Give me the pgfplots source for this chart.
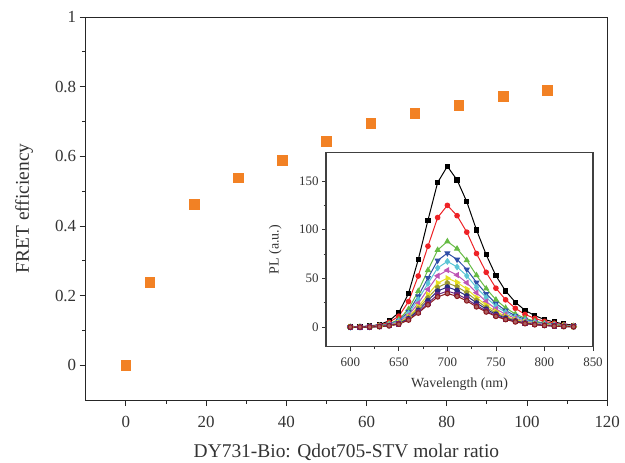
\documentclass[border=0pt]{standalone}
\usepackage{fontspec}
\setmainfont{Liberation Serif}
\usepackage{pgfplots}
\usepackage{pgfplotstable}
\pgfplotsset{compat=1.18}
\usetikzlibrary{plotmarks}
\definecolor{forange}{HTML}{F28124}
\definecolor{txt}{HTML}{333333}
\definecolor{cK}{HTML}{000000}
\definecolor{cR}{HTML}{EE2226}
\definecolor{cG}{HTML}{66BB44}
\definecolor{cB}{HTML}{2F4FA8}
\definecolor{cC}{HTML}{5CC6D6}
\definecolor{cM}{HTML}{BE55B6}
\definecolor{cY}{HTML}{E6E020}
\definecolor{cDY}{HTML}{9A9830}
\definecolor{cN}{HTML}{2A2A80}
\definecolor{cP}{HTML}{6A2A80}
\definecolor{cW}{HTML}{8B1A1E}

\pgfplotstableread{
x y
0 0
6 0.239
17 0.463
28 0.539
39 0.588
50 0.643
61 0.695
72 0.723
83 0.747
94 0.772
105 0.789
}\fret

\pgfplotstableread{
wl k r g b c m y dy n p w
600 0.5 0.4 0.3 0.2 0.2 0.2 0.2 0.1 0.1 0.1 0.1
610 0.7 0.5 0.4 0.3 0.3 0.2 0.2 0.2 0.2 0.1 0.1
620 1.2 0.9 0.6 0.5 0.5 0.4 0.4 0.3 0.3 0.3 0.2
630 2.6 2.0 1.4 1.2 1.1 0.9 0.8 0.7 0.7 0.6 0.6
640 6.6 5.0 3.5 3.0 2.7 2.3 2.0 1.8 1.6 1.5 1.4
650 14.9 11.3 7.9 6.8 6.1 5.3 4.5 4.1 3.7 3.3 3.1
660 34.7 26.3 18.5 16.0 14.2 12.3 10.6 9.5 8.7 7.8 7.3
670 69.3 52.5 37.0 31.9 28.4 24.6 21.1 19.1 17.3 15.6 14.5
680 109.7 83.1 58.5 50.5 44.9 38.9 33.4 30.2 27.4 24.7 23.0
690 148.5 112.5 79.2 68.4 60.8 52.7 45.3 40.9 37.1 33.4 31.1
700 165 125 88 76 67.5 58.5 50.3 45.4 41.2 37.1 34.6
710 151 114.4 80.5 69.5 61.8 53.5 46.0 41.5 37.7 33.9 31.7
720 128.7 97.5 68.6 59.3 52.7 45.6 39.2 35.4 32.1 28.9 27.0
730 99.8 75.6 53.2 46.0 40.8 35.4 30.4 27.5 24.9 22.4 20.9
740 74.3 56.3 39.6 34.2 30.4 26.3 22.6 20.4 18.5 16.7 15.6
750 52.8 40.0 28.2 24.3 21.6 18.7 16.1 14.5 13.2 11.9 11.1
760 37.1 28.1 19.8 17.1 15.2 13.2 11.3 10.2 9.3 8.3 7.8
770 25.6 19.4 13.6 11.8 10.5 9.1 7.8 7.0 6.4 5.8 5.4
780 17.3 13.1 9.2 8.0 7.1 6.1 5.3 4.8 4.3 3.9 3.6
790 11.9 9.0 6.3 5.5 4.9 4.2 3.6 3.3 3.0 2.7 2.5
800 7.9 6.0 4.2 3.6 3.2 2.8 2.4 2.2 2.0 1.8 1.7
810 5.3 4.0 2.8 2.4 2.2 1.9 1.6 1.5 1.3 1.2 1.1
820 3.3 2.5 1.8 1.5 1.4 1.2 1.0 0.9 0.8 0.7 0.7
830 2.0 1.5 1.1 0.9 0.8 0.7 0.6 0.5 0.5 0.4 0.4
}\spectra

\begin{document}
\begin{tikzpicture}
\path[use as bounding box] (0bp,0bp) rectangle (625bp,463bp);
% main axis
\begin{axis}[
  at={(85.7bp,63bp)}, anchor=south west,
  scale only axis, width=521.5bp, height=383bp,
  xmin=-10, xmax=120, ymin=-0.1, ymax=1,
  xtick={0,20,...,120}, ytick={0,0.2,...,1},
  minor x tick num=1, minor y tick num=1,
  tick pos=left, tick align=outside,
  major tick length=6bp, minor tick length=3.5bp,
  axis line style={line width=0.9pt, draw=black!85},
  every tick/.style={line width=0.8pt, black!85},
  /pgf/number format/assume math mode=true,
  ticklabel style={font=\fontsize{17}{20}\selectfont, text=txt},
  xticklabel style={yshift=-7bp},
  label style={font=\fontsize{19.5}{23}\selectfont, text=txt},
  xlabel={DY731-Bio: Qdot705-STV molar ratio},
  xlabel style={at={(axis description cs:0.5,-0.151)}, anchor=base},
  ylabel={FRET efficiency},
  ylabel style={at={(axis description cs:-0.118,0.5)}, anchor=center},
]
\addplot[only marks, mark=square*, mark size=4.8bp, mark options={fill=forange, draw=forange}] table[x=x,y=y] {\fret};
\end{axis}
% inset
\begin{axis}[
  at={(326bp,116.3bp)}, anchor=south west,
  scale only axis, width=267bp, height=194bp,
  xmin=575, xmax=850, ymin=-20, ymax=179,
  xtick={600,650,...,850}, ytick={0,50,100,150},
  minor x tick num=1, minor y tick num=1,
  tick pos=left, tick align=outside,
  major tick length=4bp, minor tick length=2.5bp,
  axis background/.style={fill=white},
  axis line style={line width=1.1pt, draw=black!75},
  every tick/.style={line width=0.7pt, black!80},
  /pgf/number format/assume math mode=true,
  ticklabel style={font=\fontsize{13}{15}\selectfont, text=txt},
  xticklabel style={yshift=-4bp},
  label style={font=\fontsize{14}{16}\selectfont, text=txt},
  xlabel={Wavelength (nm)},
  xlabel style={at={(axis description cs:0.5,-0.21)}, anchor=base},
  ylabel={PL (a.u.)},
  ylabel style={at={(axis description cs:-0.19,0.5)}, anchor=center},
  every axis plot/.append style={line width=1pt, mark size=2.3bp},
]
\addplot[cK, mark=square*, mark size=2.1bp] table[x=wl,y=k] {\spectra};
\addplot[cR, mark=*] table[x=wl,y=r] {\spectra};
\addplot[cG, mark=triangle*, mark size=2.7bp] table[x=wl,y=g] {\spectra};
\addplot[cB, mark=triangle*, mark size=2.7bp, mark options={rotate=180}] table[x=wl,y=b] {\spectra};
\addplot[cC, mark=diamond*, mark size=2.7bp] table[x=wl,y=c] {\spectra};
\addplot[cM, mark=triangle*, mark size=2.7bp, mark options={rotate=90}] table[x=wl,y=m] {\spectra};
\addplot[cY, mark=triangle*, mark size=2.7bp, mark options={rotate=-90}] table[x=wl,y=y] {\spectra};
\addplot[cDY, mark=pentagon*] table[x=wl,y=dy] {\spectra};
\addplot[cN, mark=*] table[x=wl,y=n] {\spectra};
\addplot[cP, mark=square*, mark size=2.1bp] table[x=wl,y=p] {\spectra};
\addplot[cW, mark=*, mark options={fill=cW!70!white}] table[x=wl,y=w] {\spectra};
\end{axis}
\end{tikzpicture}
\end{document}
